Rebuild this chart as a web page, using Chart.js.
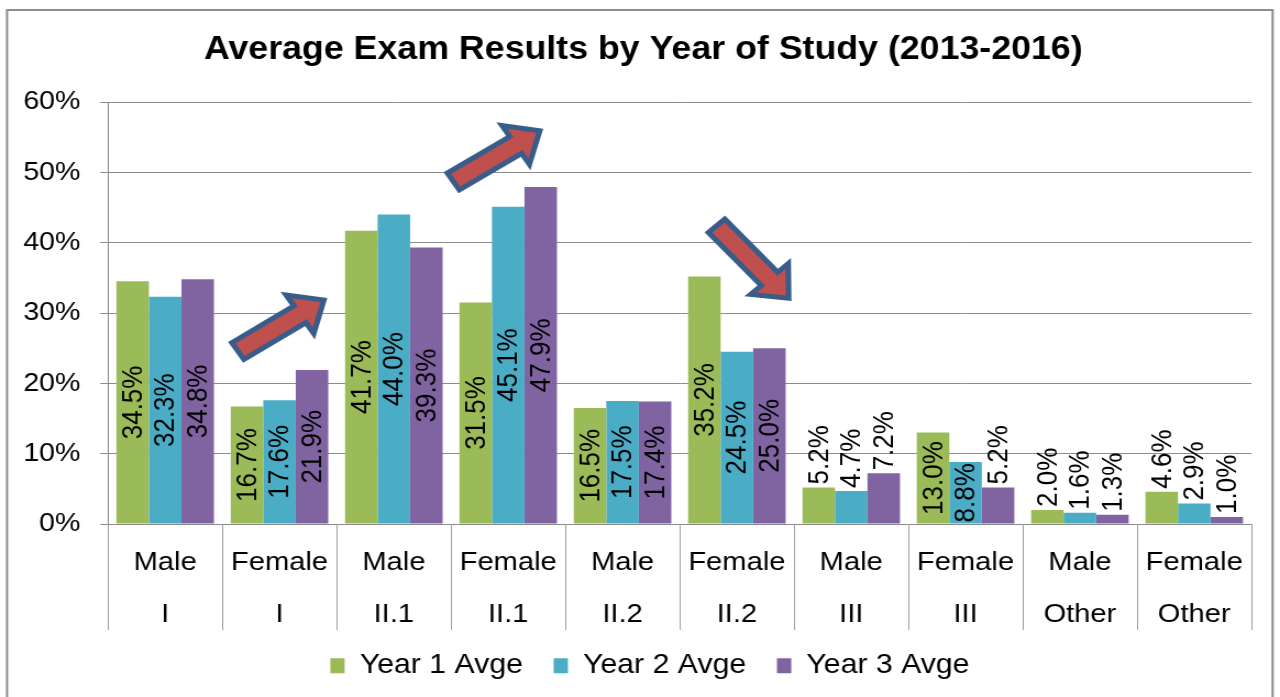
<!DOCTYPE html>
<html>
<head>
<meta charset="utf-8">
<script src="https://cdn.jsdelivr.net/npm/chart.js@4"></script>
<style>
  html, body { margin: 0; padding: 0; background: #fff; overflow: hidden; }
</style>
</head>
<body>
<!-- drawn narrower then stretched, the reference is a horizontally stretched picture -->
<canvas id="chart" width="1164" height="697" style="width:1280px;height:697px;display:block"></canvas>
<script>
  const categories = [
    ["Male", "I"], ["Female", "I"], ["Male", "II.1"], ["Female", "II.1"],
    ["Male", "II.2"], ["Female", "II.2"], ["Male", "III"], ["Female", "III"],
    ["Male", "Other"], ["Female", "Other"]
  ];
  const seriesNames = ["Year 1 Avge", "Year 2 Avge", "Year 3 Avge"];
  const year1 = [34.5, 16.7, 41.7, 31.5, 16.5, 35.2, 5.2, 13.0, 2.0, 4.6];
  const year2 = [32.3, 17.6, 44.0, 45.1, 17.5, 24.5, 4.7, 8.8, 1.6, 2.9];
  const year3 = [34.8, 21.9, 39.3, 47.9, 17.4, 25.0, 7.2, 5.2, 1.3, 1.0];
  const seriesColors = ["#9BBB59", "#4BACC6", "#8064A2"];

  // trend arrows, tail and tip in (category index, percent)
  const arrows = [
    { from: [0.636, 24.6], to: [1.388, 31.85] },
    { from: [2.52, 48.7], to: [3.276, 55.9] },
    { from: [4.823, 42.4], to: [5.453, 32.1] }
  ];

  const FONT = "Arial, 'Liberation Sans', sans-serif";

  const frame = {
    id: "frame",
    beforeDraw(chart) {
      const ctx = chart.ctx;
      ctx.save();
      ctx.fillStyle = "#fff";
      ctx.fillRect(0, 0, chart.width, chart.height);
      ctx.strokeStyle = "#8c8c8c";
      ctx.lineWidth = 2;
      ctx.strokeRect(6.4, 10, 1150.9, 720);
      ctx.restore();
    }
  };

  // title and legend sit a bit right of the canvas centre in the original
  const nudge = {
    id: "nudge",
    afterLayout(chart) {
      chart.titleBlock.left += 11;
      chart.titleBlock.right += 11;
      chart.legend.left += 17;
      chart.legend.right += 17;
    }
  };

  // vertical separators under the category axis
  const separators = {
    id: "separators",
    afterDraw(chart) {
      const x = chart.scales.x;
      const ctx = chart.ctx;
      const step = x.width / categories.length;
      ctx.save();
      ctx.strokeStyle = "#a0a0a0";
      ctx.lineWidth = 1;
      for (let i = 0; i <= categories.length; i++) {
        const px = Math.round(x.left + i * step) + 0.5;
        ctx.beginPath();
        ctx.moveTo(px, x.top);
        ctx.lineTo(px, x.top + 106);
        ctx.stroke();
      }
      ctx.restore();
    }
  };

  // rotated value labels, inside the bar when they fit, above it otherwise
  const valueLabels = {
    id: "valueLabels",
    afterDatasetsDraw(chart) {
      const ctx = chart.ctx;
      ctx.save();
      ctx.font = "26px " + FONT;
      ctx.fillStyle = "#000";
      chart.data.datasets.forEach((ds, di) => {
        const meta = chart.getDatasetMeta(di);
        meta.data.forEach((bar, i) => {
          const txt = ds.data[i].toFixed(1) + "%";
          const w = ctx.measureText(txt).width;
          const h = bar.base - bar.y;
          ctx.save();
          if (w < h) {
            ctx.translate(bar.x, (bar.y + bar.base) / 2);
            ctx.rotate(-Math.PI / 2);
            ctx.textAlign = "center";
          } else {
            ctx.translate(bar.x, bar.y - 3);
            ctx.rotate(-Math.PI / 2);
            ctx.textAlign = "left";
          }
          ctx.textBaseline = "middle";
          ctx.fillText(txt, 0, 1);
          ctx.restore();
        });
      });
      ctx.restore();
    }
  };

  const trendArrows = {
    id: "trendArrows",
    afterDraw(chart) {
      const xs = chart.scales.x, ys = chart.scales.y;
      const ctx = chart.ctx;
      arrows.forEach(a => {
        const tx = xs.getPixelForValue(a.from[0]), ty = ys.getPixelForValue(a.from[1]);
        const px = xs.getPixelForValue(a.to[0]), py = ys.getPixelForValue(a.to[1]);
        const len = Math.hypot(px - tx, py - ty);
        const ux = (px - tx) / len, uy = (py - ty) / len;
        const nx = -uy, ny = ux;
        const sw = 10, hw = 23, hl = 26;
        const bx = px - ux * hl, by = py - uy * hl;
        ctx.save();
        ctx.beginPath();
        ctx.moveTo(tx + nx * sw, ty + ny * sw);
        ctx.lineTo(bx + nx * sw, by + ny * sw);
        ctx.lineTo(bx + nx * hw, by + ny * hw);
        ctx.lineTo(px, py);
        ctx.lineTo(bx - nx * hw, by - ny * hw);
        ctx.lineTo(bx - nx * sw, by - ny * sw);
        ctx.lineTo(tx - nx * sw, ty - ny * sw);
        ctx.closePath();
        ctx.fillStyle = "#C0504D";
        ctx.fill();
        ctx.lineWidth = 5;
        ctx.lineJoin = "miter";
        ctx.strokeStyle = "#385D8A";
        ctx.stroke();
        ctx.restore();
      });
    }
  };

  new Chart(document.getElementById("chart").getContext("2d"), {
    type: "bar",
    data: {
      labels: categories,
      datasets: [year1, year2, year3].map((vals, k) => ({
        label: seriesNames[k],
        data: vals,
        backgroundColor: seriesColors[k],
        borderWidth: 0,
        categoryPercentage: 0.853,
        barPercentage: 1.0
      }))
    },
    options: {
      responsive: false,
      animation: false,
      devicePixelRatio: 1,
      layout: { padding: { left: 10, right: 26, top: 0, bottom: 7.5 } },
      plugins: {
        title: {
          display: true,
          text: "Average Exam Results by Year of Study (2013-2016)",
          color: "#000",
          font: { family: FONT, size: 32.5, weight: "bold", lineHeight: 1.2 },
          padding: { top: 31, bottom: 32 }
        },
        legend: {
          position: "bottom",
          labels: {
            color: "#000",
            font: { family: FONT, size: 27.5 },
            boxWidth: 13,
            boxHeight: 15,
            padding: 28
          }
        },
        tooltip: { enabled: false }
      },
      scales: {
        x: {
          grid: { display: false, drawTicks: false },
          border: { display: true, color: "#8c8c8c" },
          ticks: {
            color: "#000",
            padding: 13,
            maxRotation: 0,
            autoSkip: false,
            font: { family: FONT, size: 26.5, lineHeight: "52px" }
          },
          afterFit(scale) { scale.height = 100; }
        },
        y: {
          min: 0,
          max: 60,
          grid: { color: "#8c8c8c", tickLength: 7, tickColor: "#8c8c8c" },
          border: { display: true, color: "#8c8c8c" },
          ticks: {
            stepSize: 10,
            color: "#000",
            padding: 18,
            font: { family: FONT, size: 26 },
            callback: v => v + "%"
          },
          afterFit(scale) { scale.width = 88.2; }
        }
      }
    },
    plugins: [frame, nudge, separators, valueLabels, trendArrows]
  });
</script>
</body>
</html>
